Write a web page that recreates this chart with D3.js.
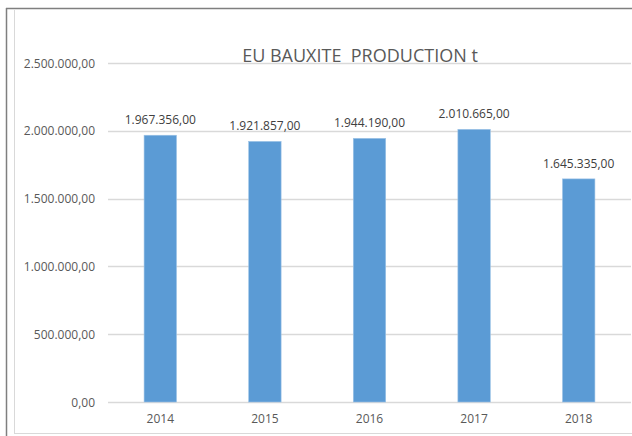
<!DOCTYPE html>
<html>
<head>
<meta charset="utf-8">
<script src="https://cdn.jsdelivr.net/npm/d3@7"></script>
<style>
  body { margin: 0; background: #fff; }
  svg { display: block; font-family: "Open Sans", sans-serif; }
</style>
</head>
<body>
<svg id="chart"></svg>
<script>
var w = 632,
    h = 436;

var years = ["2014", "2015", "2016", "2017", "2018"];
var production = [1967356, 1921857, 1944190, 2010665, 1645335];
var yTicks = [0, 500000, 1000000, 1500000, 2000000, 2500000];
var title = "EU BAUXITE\u00a0\u00a0PRODUCTION t";

var plotLeft = 108, plotRight = 631, plotTop = 63, plotBottom = 402;

var fmt = d3.formatLocale({ decimal: ",", thousands: ".", grouping: [3], currency: ["", ""] }).format(",.2f");

var svg = d3.select("#chart").attr("width", w).attr("height", h);

// frame
svg.append("line").attr("x1", 6).attr("x2", w).attr("y1", 8.5).attr("y2", 8.5)
  .style("stroke", "#7f7f7f").style("stroke-width", 1.5);
svg.append("line").attr("x1", 6.5).attr("x2", 6.5).attr("y1", 8).attr("y2", h)
  .style("stroke", "#7f7f7f").style("stroke-width", 1.5);
svg.append("line").attr("x1", 14.5).attr("x2", 14.5).attr("y1", 10).attr("y2", 433)
  .style("stroke", "#d9d9d9");
svg.append("line").attr("x1", 14).attr("x2", w).attr("y1", 433.5).attr("y2", 433.5)
  .style("stroke", "#d9d9d9");

var x = d3.scaleBand().domain(years).range([plotLeft, plotRight]).paddingInner(0.69).paddingOuter(0.345);
var y = d3.scaleLinear().domain([0, 2500000]).range([plotBottom, plotTop]);

// gridlines
svg.append("g").selectAll("line")
  .data(yTicks)
  .enter().append("line")
  .attr("x1", plotLeft).attr("x2", plotRight)
  .attr("y1", function(d) { return Math.round(y(d)) + 0.5; })
  .attr("y2", function(d) { return Math.round(y(d)) + 0.5; })
  .style("stroke", "#d9d9d9").style("stroke-width", 1.3);

// y labels
svg.append("g").selectAll("text")
  .data(yTicks)
  .enter().append("text")
  .attr("x", 95)
  .attr("y", function(d) { return y(d) + 4.5; })
  .attr("text-anchor", "end")
  .style("font-size", "12px")
  .style("fill", "#595959")
  .text(fmt);

// title
svg.append("text")
  .attr("x", 360).attr("y", 62)
  .attr("text-anchor", "middle")
  .style("font-size", "18px")
  .style("fill", "#595959")
  .text(title);

// bars
svg.append("g").selectAll("rect")
  .data(production)
  .enter().append("rect")
  .attr("x", function(d, i) { return x(years[i]); })
  .attr("y", function(d) { return y(d); })
  .attr("width", x.bandwidth())
  .attr("height", function(d) { return plotBottom - y(d); })
  .style("fill", "#5b9bd5")
  .style("stroke", "#9dc3e6")
  .style("stroke-width", 0.6);

// value labels
svg.append("g").selectAll("text")
  .data(production)
  .enter().append("text")
  .attr("x", function(d, i) { return x(years[i]) + x.bandwidth() / 2; })
  .attr("y", function(d) { return y(d) - 11; })
  .attr("text-anchor", "middle")
  .style("font-size", "12px")
  .style("fill", "#404040")
  .text(fmt);

// x labels
svg.append("g").selectAll("text")
  .data(years)
  .enter().append("text")
  .attr("x", function(d) { return x(d) + x.bandwidth() / 2; })
  .attr("y", 423)
  .attr("text-anchor", "middle")
  .style("font-size", "12px")
  .style("fill", "#595959")
  .text(function(d) { return d; });
</script>
</body>
</html>
